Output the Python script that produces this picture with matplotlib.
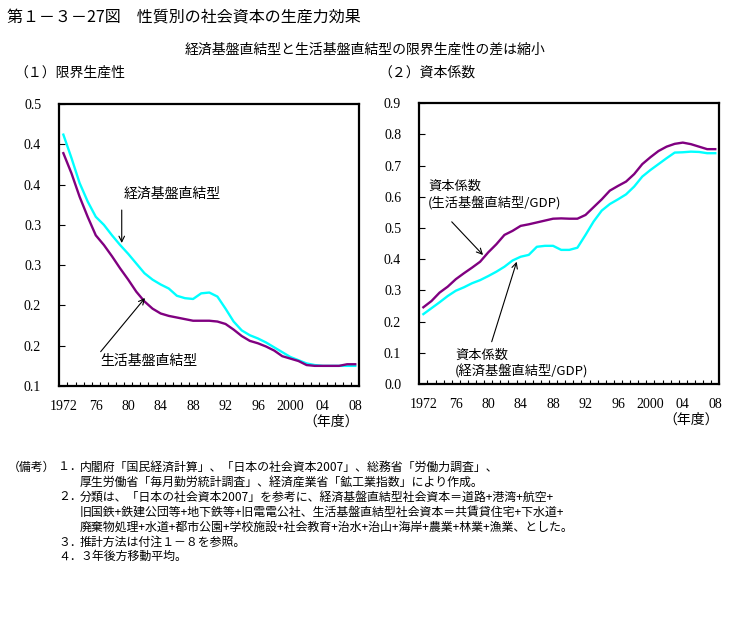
import matplotlib
matplotlib.use('Agg')
import matplotlib.pyplot as plt

plt.rcParams['font.family'] = ['Noto Sans CJK JP', 'DejaVu Sans']

# 年度
years = list(range(1972, 2009))

# (1) 限界生産性
mp_keizai = [0.412, 0.383, 0.352, 0.329, 0.310, 0.300, 0.287, 0.275, 0.264, 0.252,
             0.240, 0.232, 0.226, 0.221, 0.212, 0.209, 0.208, 0.215, 0.216, 0.211,
             0.196, 0.180, 0.169, 0.163, 0.159, 0.154, 0.148, 0.142, 0.136, 0.132,
             0.128, 0.126, 0.125, 0.125, 0.125, 0.125, 0.125]
mp_seikatsu = [0.389, 0.364, 0.335, 0.310, 0.287, 0.275, 0.261, 0.246, 0.232, 0.217,
               0.205, 0.196, 0.190, 0.187, 0.185, 0.183, 0.181, 0.181, 0.181, 0.180,
               0.177, 0.170, 0.162, 0.156, 0.153, 0.149, 0.144, 0.137, 0.134, 0.131,
               0.126, 0.125, 0.125, 0.125, 0.125, 0.127, 0.127]

# (2) 資本係数
kc_keizai = [0.224, 0.243, 0.262, 0.282, 0.299, 0.310, 0.323, 0.333, 0.346, 0.360,
             0.376, 0.396, 0.408, 0.414, 0.440, 0.443, 0.443, 0.430, 0.430, 0.437,
             0.478, 0.521, 0.556, 0.577, 0.592, 0.608, 0.633, 0.665, 0.686, 0.705,
             0.724, 0.742, 0.743, 0.745, 0.744, 0.740, 0.740]
kc_seikatsu = [0.246, 0.266, 0.293, 0.312, 0.336, 0.355, 0.373, 0.392, 0.422, 0.448,
               0.478, 0.491, 0.507, 0.512, 0.518, 0.524, 0.530, 0.531, 0.530, 0.530,
               0.542, 0.567, 0.592, 0.620, 0.635, 0.649, 0.673, 0.705, 0.727, 0.747,
               0.761, 0.770, 0.774, 0.769, 0.761, 0.753, 0.753]

year_ticks = [1972, 1976, 1980, 1984, 1988, 1992, 1996, 2000, 2004, 2008]
year_labels = ['1972', '76', '80', '84', '88', '92', '96', '2000', '04', '08']
mp_yticks = [0.10, 0.15, 0.20, 0.25, 0.30, 0.35, 0.40, 0.45]
mp_ylabels = ['0.1', '0.2', '0.2', '0.3', '0.3', '0.4', '0.4', '0.5']
kc_yticks = [0.0, 0.1, 0.2, 0.3, 0.4, 0.5, 0.6, 0.7, 0.8, 0.9]
kc_ylabels = ['0.0', '0.1', '0.2', '0.3', '0.4', '0.5', '0.6', '0.7', '0.8', '0.9']

notes = [
    (8, 467, '（備考）'),
    (58, 467, '１．'),
    (80, 467, '内閣府「国民経済計算」、「日本の社会資本2007」、総務省「労働力調査」、'),
    (80, 482, '厚生労働省「毎月勤労統計調査」、経済産業省「鉱工業指数」により作成。'),
    (58, 497, '２．'),
    (80, 497, '分類は、「日本の社会資本2007」を参考に、経済基盤直結型社会資本＝道路+港湾+航空+'),
    (80, 512, '旧国鉄+鉄建公団等+地下鉄等+旧電電公社、生活基盤直結型社会資本＝共賃貸住宅+下水道+'),
    (80, 527, '廃棄物処理+水道+都市公園+学校施設+社会教育+治水+治山+海岸+農業+林業+漁業、とした。'),
    (58, 542, '３．'),
    (80, 542, '推計方法は付注１－８を参照。'),
    (58, 556, '４．'),
    (80, 556, '３年後方移動平均。'),
]

W, H = 731, 623
fig = plt.figure(figsize=(W / 100, H / 100), dpi=100)

ax1 = fig.add_axes([59.3 / W, 1 - 386 / H, 300 / W, 282 / H])
ax2 = fig.add_axes([419.3 / W, 1 - 384 / H, 300 / W, 280.7 / H])

cyan = '#00FFFF'
purple = '#800080'
tick_font = dict(family='Liberation Serif', size=10)


def style_axis(ax, yticks, ylabels, ylim):
    ax.set_xlim(1971.5, 2008.5)
    ax.set_ylim(*ylim)
    ax.set_xticks(year_ticks)
    ax.set_xticklabels(year_labels, fontdict=tick_font)
    ax.set_xticks([y + 0.5 for y in years[:-1]], minor=True)
    ax.tick_params(axis='x', which='major', length=0, pad=10)
    ax.tick_params(axis='x', which='minor', direction='in', length=3, width=0.8)
    ax.set_yticks(yticks)
    ax.set_yticklabels(ylabels, fontdict=tick_font)
    ax.tick_params(axis='y', direction='in', length=4, width=0.8, pad=13)
    for s in ax.spines.values():
        s.set_linewidth(1.6)
    ax.text(1.0, -36 / 282, '（年度）', transform=ax.transAxes, ha='right', va='center', fontsize=10)


ax1.plot(years, mp_keizai, color=cyan, lw=1.7)
ax1.plot(years, mp_seikatsu, color=purple, lw=1.7)
style_axis(ax1, mp_yticks, mp_ylabels, (0.10, 0.45))

ax2.plot(years, kc_seikatsu, color=purple, lw=1.7)
ax2.plot(years, kc_keizai, color=cyan, lw=1.7)
style_axis(ax2, kc_yticks, kc_ylabels, (0.0, 0.9))

arrow = dict(arrowstyle='->', lw=0.8, color='black', shrinkA=0, shrinkB=0)

ax1.text(1979.4, 0.338, '経済基盤直結型', fontsize=10, ha='left', va='center')
ax1.annotate('', xy=(1979.2, 0.2775), xytext=(1979.2, 0.3184), arrowprops=arrow)
ax1.text(1976.5, 0.131, '生活基盤直結型', fontsize=10, ha='left', va='center')
ax1.annotate('', xy=(1982.07, 0.2092), xytext=(1976.6, 0.1426), arrowprops=arrow)

ax2.text(1972.6, 0.606, '資本係数\n(生活基盤直結型/GDP)', fontsize=9.5, ha='left', va='center',
         linespacing=1.25)
ax2.annotate('', xy=(1979.36, 0.4136), xytext=(1975.5, 0.520), arrowprops=arrow)
ax2.text(1975.9, 0.064, '資本係数\n(経済基盤直結型/GDP)', fontsize=9.5, ha='left', va='center',
         linespacing=1.25)
ax2.annotate('', xy=(1983.51, 0.392), xytext=(1980.43, 0.1356), arrowprops=arrow)

fig.text(7 / W, 1 - 17 / H, '第１－３－27図　性質別の社会資本の生産力効果', fontsize=11.5,
         ha='left', va='center')
fig.text(365 / W, 1 - 50 / H, '経済基盤直結型と生活基盤直結型の限界生産性の差は縮小', fontsize=10,
         ha='center', va='center')
fig.text(14 / W, 1 - 73 / H, '（１）限界生産性', fontsize=10, ha='left', va='center')
fig.text(378 / W, 1 - 73 / H, '（２）資本係数', fontsize=10, ha='left', va='center')

for x, y, s in notes:
    fig.text(x / W, 1 - y / H, s, fontsize=8.6, ha='left', va='center')

fig.savefig('out.png', dpi=100)
